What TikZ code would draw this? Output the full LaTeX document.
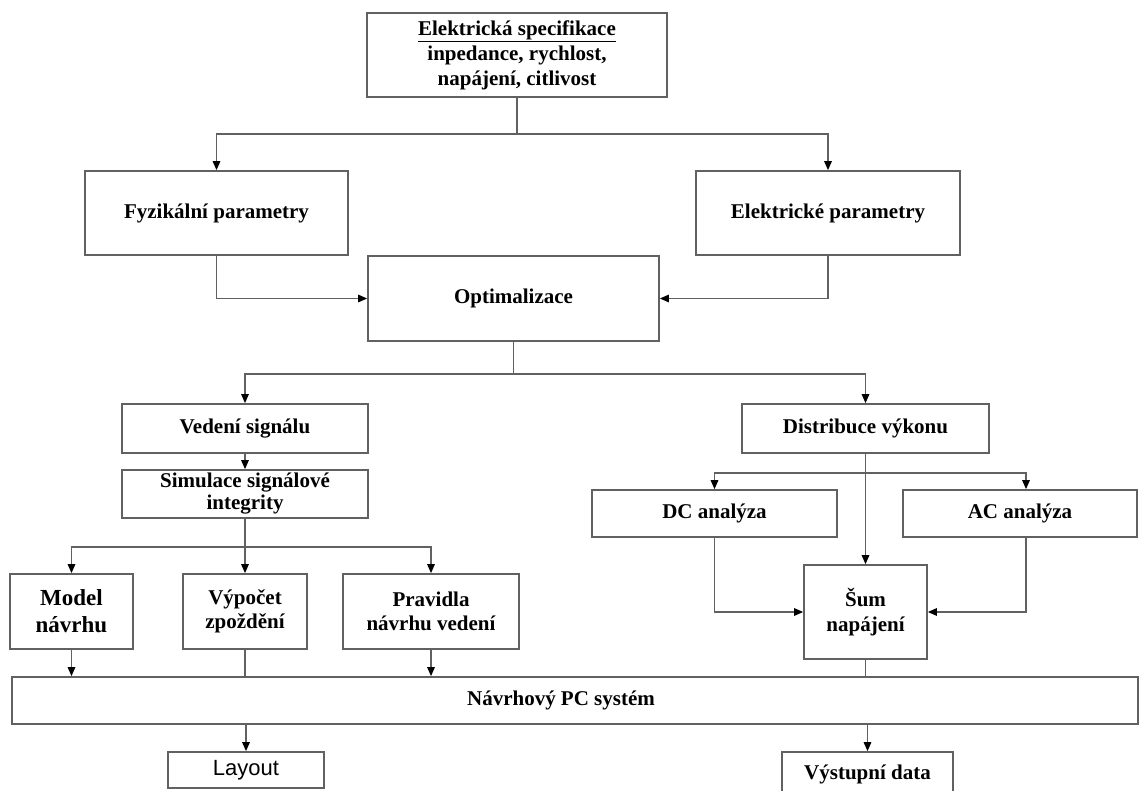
\documentclass[tikz,border=0pt]{standalone}
\usepackage{fontspec}
\setmainfont{Liberation Serif}
\newfontfamily\arialfont{Liberation Sans}
\usetikzlibrary{arrows.meta,calc}

\begin{document}
\begin{tikzpicture}[x=1pt,y=-1pt,
  box/.style={draw=black!62, line width=1.7pt, fill=white, inner sep=0pt,
    align=center, font=\fontsize{21}{25}\selectfont\bfseries},
  link/.style={draw=black!62, line width=1.4pt},
  arr/.style={link, -{Triangle[length=9pt,width=7.5pt,color=black]}}]

\useasboundingbox (0,0) rectangle (1139,791);
\clip (0,0) rectangle (1139,791);

% top level
\node[box, minimum width=300pt, minimum height=84pt] (spec) at (517,55)
  {\underline{Elektrická specifikace}\\inpedance, rychlost,\\napájení, citlivost};
\node[box, minimum width=263pt, minimum height=84pt] (fyz) at (216.5,213) {Fyzikální parametry};
\node[box, minimum width=264pt, minimum height=84pt] (ele) at (828,213) {Elektrické parametry};
\node[box, minimum width=291pt, minimum height=85pt] (opt) at (513.5,298.5) {Optimalizace};

% signal branch
\node[box, minimum width=246pt, minimum height=49pt] (ved) at (245,428.5) {Vedení signálu};
\node[box, minimum width=246pt, minimum height=48pt,
  font=\fontsize{21}{22}\selectfont\bfseries] (sim) at (245,494) {Simulace signálové\\integrity};
\node[box, minimum width=123pt, minimum height=75pt,
  font=\fontsize{23}{27}\selectfont\bfseries] (model) at (71.5,611.5) {Model\\návrhu};
\node[box, minimum width=124pt, minimum height=75pt,
  font=\fontsize{21}{24}\selectfont\bfseries] (vyp) at (245,611.5) {Výpočet\\zpoždění};
\node[box, minimum width=176pt, minimum height=75pt,
  font=\fontsize{21}{24}\selectfont\bfseries] (prav) at (431,611.5) {Pravidla\\návrhu vedení};

% power branch
\node[box, minimum width=247pt, minimum height=49pt] (dis) at (865.5,428.5) {Distribuce výkonu};
\node[box, minimum width=245pt, minimum height=47pt] (dc) at (714.5,513.5) {DC analýza};
\node[box, minimum width=234pt, minimum height=47pt] (ac) at (1020,513.5) {AC analýza};
\node[box, minimum width=123pt, minimum height=94pt] (sum) at (865.5,612) {Šum\\napájení};

% design system and outputs
\node[box, minimum width=1126pt, minimum height=47pt] (nav) at (575,700.5) {\hspace*{-28pt}Návrhový PC systém};
\node[box, minimum width=156pt, minimum height=36pt,
  font=\arialfont\fontsize{22}{26}\selectfont] (lay) at (246,770) {Layout};
\node[box, minimum width=171pt, minimum height=44pt] (vys) at (867.5,774) {Výstupní data};

% connectors: top part
\draw[link] (spec.south) -- ++(0,36) coordinate (j1);
\draw[arr] (j1) -| (fyz.north);
\draw[arr] (j1) -| (ele.north);
\draw[arr] (fyz.south) |- (opt.west);
\draw[arr] (ele.south) |- (opt.east);
\draw[link] (opt.south) -- ++(0,32) coordinate (j2);
\draw[arr] (j2) -| (ved.north);
\draw[arr] (j2) -| (dis.north);

% connectors: signal branch
\draw[arr] (ved.south) -- (sim.north);
\draw[link] (sim.south) -- ++(0,28) coordinate (j3);
\draw[arr] (j3) -| (model.north);
\draw[arr] (j3) -- (vyp.north);
\draw[arr] (j3) -| (prav.north);
\draw[arr] (model.south) -- (model.south |- nav.north);
\draw[link] (vyp.south) -- (vyp.south |- nav.north);
\draw[arr] (prav.south) -- (prav.south |- nav.north);

% connectors: power branch
\draw[arr] (dis.south) -- (sum.north);
\coordinate (j4) at ($(dis.south)+(0,19)$);
\draw[arr] (j4) -| (dc.north);
\draw[arr] (j4) -| ($(ac.north)+(6,0)$);
\draw[arr] (dc.south) |- (sum.west);
\draw[arr] ($(ac.south)+(6,0)$) |- (sum.east);
\draw[link] (sum.south) -- (sum.south |- nav.north);

% outputs
\draw[arr] (nav.south -| lay.north) -- (lay.north);
\draw[arr] (nav.south -| vys.north) -- (vys.north);
\end{tikzpicture}
\end{document}
